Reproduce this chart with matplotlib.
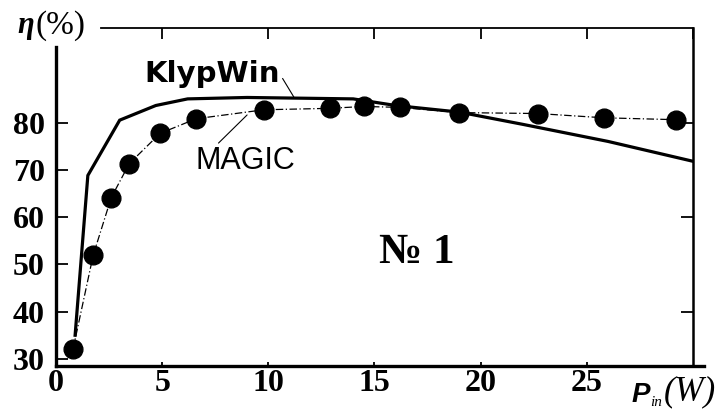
import numpy as np
from matplotlib import pyplot as plt

# KlypWin curve (solid, thick)
klyp_x = [0.9, 1.5, 3.0, 4.7, 6.2, 9.0, 14.0, 16.0, 19.0, 22.0, 26.0, 30.0]
klyp_y = [35.0, 68.8, 80.5, 83.6, 85.0, 85.3, 85.0, 83.6, 82.2, 79.6, 76.0, 71.8]

# MAGIC points (filled circles, thin dash-dot)
magic_x = [0.8, 1.75, 2.6, 3.45, 4.9, 6.6, 9.8, 12.9, 14.5, 16.2, 19.0, 22.7, 25.8, 29.2]
magic_y = [32.0, 51.9, 64.1, 71.3, 77.7, 80.8, 82.7, 83.0, 83.4, 83.2, 82.1, 81.9, 81.0, 80.6]

xticks = [0, 5, 10, 15, 20, 25]
yticks = [30, 40, 50, 60, 70, 80]

fig = plt.figure(figsize=(7.17, 4.12), dpi=100)
ax = fig.add_axes([0.0781, 0.1117, 0.8884, 0.8204])

ax.plot(klyp_x, klyp_y, color='black', lw=2.3, solid_joinstyle='miter')
ax.plot(magic_x, magic_y, color='black', lw=0.9, ls=(0, (6, 2, 1, 2)),
        marker='o', ms=13.5, mfc='black', mec='black')

ax.set_xlim(0, 30)
ax.set_ylim(28.5, 100)

# spines like the scanned figure
ax.spines['left'].set_linewidth(2.4)
ax.spines['left'].set_bounds(28.5, 96)
ax.spines['bottom'].set_linewidth(2.4)
ax.spines['bottom'].set_bounds(0, 30.5)
ax.spines['bottom'].set_clip_on(False)
ax.spines['top'].set_linewidth(1.3)
ax.spines['top'].set_bounds(2.1, 30)
ax.spines['right'].set_linewidth(1.8)

ax.set_xticks(xticks)
ax.set_yticks(yticks)
tick_font = dict(family='Liberation Serif', weight='bold', size=23)
ax.set_xticklabels([str(t) for t in xticks], fontdict=tick_font)
ax.set_yticklabels([str(t) for t in yticks], fontdict=tick_font)
ax.tick_params(axis='x', direction='in', length=3, width=1.3, pad=2)
ax.tick_params(axis='y', direction='in', length=8.5, width=1.3, pad=8)

top = ax.secondary_xaxis('top')
top.set_xticks([5, 10, 15, 20, 25, 30])
top.tick_params(direction='in', length=8, width=1.3, labeltop=False)
top.spines['top'].set_visible(False)

right = ax.secondary_yaxis('right')
right.set_yticks([40, 60, 80])
right.tick_params(direction='in', length=8.5, width=1.3, labelright=False)
right.spines['right'].set_visible(False)

# curve labels
ax.annotate('KlypWin', xy=(11.2, 85.4), xytext=(7.35, 88.6),
            ha='center', va='baseline', fontsize=21, fontweight='bold',
            family='DejaVu Sans',
            arrowprops=dict(arrowstyle='-', color='black', lw=0.8,
                            shrinkA=0, shrinkB=0, relpos=(1.0, 0.5)))
ax.annotate('MAGIC', xy=(9.0, 81.6), xytext=(8.93, 70.2),
            ha='center', va='baseline', fontsize=22, family='Liberation Sans',
            arrowprops=dict(arrowstyle='-', color='black', lw=0.8,
                            shrinkA=0, shrinkB=0, relpos=(0.2, 1.0)))

ax.text(17.0, 50.3, '№ 1', ha='center', va='baseline', fontsize=31,
        fontweight='bold', family=['Liberation Serif', 'DejaVu Serif'])

# axis titles
fig.text(0.024, 0.939, 'η', fontsize=22, fontweight='bold', style='italic',
         family='Liberation Serif', va='center', ha='left')
fig.text(0.050, 0.937, '(%)', fontsize=24, family='Liberation Serif',
         va='center', ha='left')
fig.text(0.881, 0.024, 'P', fontsize=20, fontweight='bold', style='italic',
         family='Liberation Sans', va='baseline', ha='left')
fig.text(0.907, 0.014, 'in', fontsize=11, style='italic',
         family='Liberation Serif', va='baseline', ha='left')
fig.text(0.926, 0.050, '(W)', fontsize=25, style='italic',
         family='Liberation Serif', va='center', ha='left')

fig.savefig('out.png', dpi=100)
